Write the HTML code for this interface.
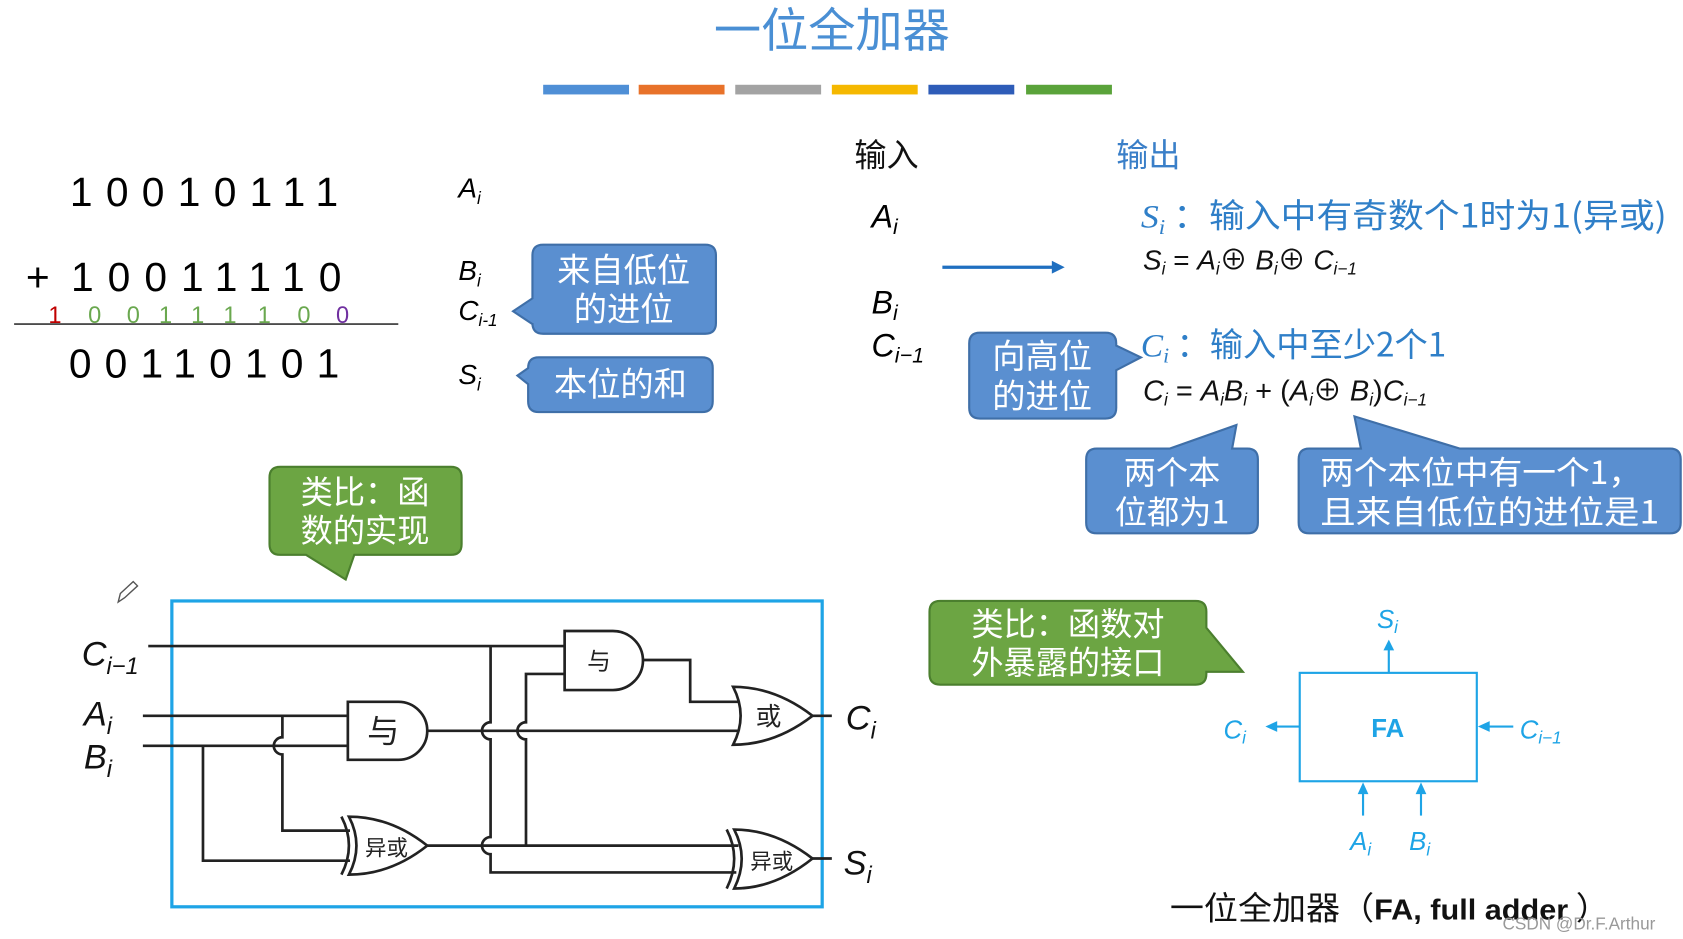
<!DOCTYPE html>
<html><head><meta charset="utf-8"><style>
html,body{margin:0;padding:0;background:#fff;}
svg{display:block;}
text{font-family:"Liberation Sans","Noto Sans CJK SC",sans-serif;}
.cjk{font-family:"Noto Sans CJK SC","Liberation Sans",sans-serif;}
.it{font-family:"Liberation Serif","Noto Sans CJK SC",serif;font-style:italic;}
.w{stroke:#222;stroke-width:2.5;fill:none;}
.g{stroke:#222;stroke-width:2.5;fill:#fff;}
.cb{fill:#5a8fd0;stroke:#3f6fa8;stroke-width:2;}
.cg{fill:#6ca543;stroke:#4b7f2e;stroke-width:2;}
.fa{stroke:#1ea4e6;stroke-width:2;fill:none;}
</style></head><body>
<svg width="1683" height="939" viewBox="0 0 1568 875" xmlns="http://www.w3.org/2000/svg">
<rect width="1568" height="875" fill="#fff"/>
<text x="775" y="44" text-anchor="middle" class="cjk" font-size="44" fill="#4a8fd4">一位全加器</text>
<rect x="506" y="79" width="80" height="9" fill="#4f8fd6"/>
<rect x="595" y="79" width="80" height="9" fill="#e8722a"/>
<rect x="685" y="79" width="80" height="9" fill="#a3a3a3"/>
<rect x="775" y="79" width="80" height="9" fill="#f5b800"/>
<rect x="865" y="79" width="80" height="9" fill="#2e5cb8"/>
<rect x="956" y="79" width="80" height="9" fill="#5aa33a"/>

<text x="65" y="192" font-size="38" textLength="250" lengthAdjust="spacing">10010111</text>
<text x="24" y="271" font-size="38">+</text>
<text x="66" y="271" font-size="38" textLength="252" lengthAdjust="spacing">10011110</text>
<g font-size="22">
<text x="45" y="301" fill="#c00000">1</text>
<text x="82" y="301" fill="#6aa84f">0</text>
<text x="118" y="301" fill="#6aa84f">0</text>
<text x="148" y="301" fill="#6aa84f">1</text>
<text x="178" y="301" fill="#6aa84f">1</text>
<text x="208" y="301" fill="#6aa84f">1</text>
<text x="240" y="301" fill="#6aa84f">1</text>
<text x="277" y="301" fill="#6aa84f">0</text>
<text x="313" y="301" fill="#7030a0">0</text>
</g>
<line x1="13" y1="302" x2="371" y2="302" stroke="#333" stroke-width="1.5"/>
<text x="64" y="352" font-size="38" textLength="252" lengthAdjust="spacing">00110101</text>

<g class="it" font-size="26">
<text x="427" y="184">A<tspan font-size="16" dy="6">i</tspan></text>
<text x="427" y="261">B<tspan font-size="16" dy="6">i</tspan></text>
<text x="427" y="298">C<tspan font-size="16" dy="6">i-1</tspan></text>
<text x="427" y="358">S<tspan font-size="16" dy="6">i</tspan></text>
</g>
<path class="cb" d="M506,228 H657 Q667,228 667,238 V301 Q667,311 657,311 H506 Q496,311 496,301 V302 L478,290 L496,278 V238 Q496,228 506,228 Z"/>
<text x="581" y="263" text-anchor="middle" class="cjk" font-size="31" fill="#fff">来自低位</text>
<text x="581" y="299" text-anchor="middle" class="cjk" font-size="31" fill="#fff">的进位</text>
<path class="cb" d="M502,333 H654 Q664,333 664,343 V374 Q664,384 654,384 H502 Q492,384 492,374 V358 L482,350 L492,343 Q492,333 502,333 Z"/>
<text x="578" y="369" text-anchor="middle" class="cjk" font-size="31" fill="#fff">本位的和</text>

<text x="796" y="155" class="cjk" font-size="30" fill="#111">输入</text>
<text x="1040" y="155" class="cjk" font-size="30" fill="#3a7fc8">输出</text>
<g class="it" font-size="30">
<text x="812" y="212">A<tspan font-size="20" dy="6">i</tspan></text>
<text x="812" y="292">B<tspan font-size="20" dy="6">i</tspan></text>
<text x="812" y="332">C<tspan font-size="20" dy="6">i−1</tspan></text>
</g>
<line x1="878" y1="249" x2="982" y2="249" stroke="#1f6fc0" stroke-width="3"/>
<polygon points="980,243 992,249 980,255" fill="#1f6fc0"/>

<text x="1063" y="212" font-size="31" fill="#2f7fc8" textLength="490" lengthAdjust="spacingAndGlyphs"><tspan class="it">S</tspan><tspan class="it" font-size="20" dy="6">i</tspan><tspan dy="-6" class="cjk"> ：输入中有奇数个1时为1(异或)</tspan></text>
<text x="1065" y="251" font-size="26" fill="#111" font-style="italic">S<tspan font-size="16" dy="5">i</tspan><tspan dy="-5" font-style="normal"> = </tspan>A<tspan font-size="16" dy="5">i</tspan><tspan dy="-5" font-style="normal">⊕ </tspan>B<tspan font-size="16" dy="5">i</tspan><tspan dy="-5" font-style="normal">⊕ </tspan>C<tspan font-size="16" dy="5">i−1</tspan></text>

<path class="cb" d="M913,310 H1030 Q1040,310 1040,320 V322 L1063,333 L1040,345 V380 Q1040,390 1030,390 H913 Q903,390 903,380 V320 Q903,310 913,310 Z"/>
<text x="971" y="343" text-anchor="middle" class="cjk" font-size="31" fill="#fff">向高位</text>
<text x="971" y="380" text-anchor="middle" class="cjk" font-size="31" fill="#fff">的进位</text>

<text x="1063" y="332" font-size="31" fill="#2f7fc8"><tspan class="it">C</tspan><tspan class="it" font-size="20" dy="6">i</tspan><tspan dy="-6" class="cjk"> ：输入中至少2个1</tspan></text>
<text x="1065" y="373" font-size="27" fill="#111" font-style="italic">C<tspan font-size="16" dy="5">i</tspan><tspan dy="-5" font-style="normal"> = </tspan>A<tspan font-size="16" dy="5">i</tspan><tspan dy="-5">B</tspan><tspan font-size="16" dy="5">i</tspan><tspan dy="-5" font-style="normal"> + (</tspan>A<tspan font-size="16" dy="5">i</tspan><tspan dy="-5" font-style="normal">⊕ </tspan>B<tspan font-size="16" dy="5">i</tspan><tspan dy="-5" font-style="normal">)</tspan>C<tspan font-size="16" dy="5">i−1</tspan></text>

<path class="cb" d="M1022,418 H1090 L1152,396 L1148,418 H1162 Q1172,418 1172,428 V487 Q1172,497 1162,497 H1022 Q1012,497 1012,487 V428 Q1012,418 1022,418 Z"/>
<text x="1092" y="451" text-anchor="middle" class="cjk" font-size="30" fill="#fff">两个本</text>
<text x="1092" y="488" text-anchor="middle" class="cjk" font-size="30" fill="#fff">位都为1</text>
<path class="cb" d="M1220,418 H1268 L1262,388 L1360,418 H1556 Q1566,418 1566,428 V487 Q1566,497 1556,497 H1220 Q1210,497 1210,487 V428 Q1210,418 1220,418 Z"/>
<text x="1230" y="451" class="cjk" font-size="30" fill="#fff" textLength="300" lengthAdjust="spacingAndGlyphs">两个本位中有一个1，</text>
<text x="1230" y="488" class="cjk" font-size="30" fill="#fff" textLength="316" lengthAdjust="spacingAndGlyphs">且来自低位的进位是1</text>

<path class="cg" d="M261,435 H420 Q430,435 430,445 V507 Q430,517 420,517 H330 L322,540 L285,517 H261 Q251,517 251,507 V445 Q251,435 261,435 Z"/>
<text x="340" y="469" text-anchor="middle" class="cjk" font-size="30" fill="#fff">类比：函</text>
<text x="340" y="505" text-anchor="middle" class="cjk" font-size="30" fill="#fff">数的实现</text>
<path class="cg" d="M876,560 H1114 Q1124,560 1124,570 V585 L1158,626 L1124,626 V628 Q1124,638 1114,638 H876 Q866,638 866,628 V570 Q866,560 876,560 Z"/>
<text x="995" y="592" text-anchor="middle" class="cjk" font-size="30" fill="#fff">类比：函数对</text>
<text x="995" y="628" text-anchor="middle" class="cjk" font-size="30" fill="#fff">外暴露的接口</text>

<path d="M110,561 L112,553 L124,542 L128,546 L116,557 Z" fill="none" stroke="#555" stroke-width="1.3"/>

<rect x="160" y="560" width="606" height="285" fill="none" stroke="#1ea4e6" stroke-width="3"/>
<path class="w" d="M138,602 H527"/>
<path class="w" d="M457,602 V673 A8,8 0 0 0 457,689 V780 A8,8 0 0 0 457,796 V813 H686"/>
<path class="w" d="M527,628 H490 V673 A8,8 0 0 0 490,689 V788"/>
<path class="w" d="M599,615 H643 V654 H690"/>
<path class="w" d="M398,681 H692"/>
<path class="w" d="M398,788 H688"/>
<path class="w" d="M757,667 H775"/>
<path class="w" d="M757,800 H775"/>
<path class="w" d="M133,667 H324"/>
<path class="w" d="M133,695 H324"/>
<path class="w" d="M263,667 V687 A8,8 0 0 0 263,703 V774 H326"/>
<path class="w" d="M189,695 V802 H326"/>
<path class="g" d="M526,588 H571 A28,27.5 0 0 1 571,643 H526 Z"/>
<path class="g" d="M324,654 H371 A27,27 0 0 1 371,708 H324 Z"/>
<path class="g" d="M683,640 Q722,640 757,667 Q722,694 683,694 Q697,667 683,640 Z"/>
<path class="g" d="M325,761 Q364,761 398,788 Q364,815 325,815 Q339,788 325,761 Z"/>
<path class="w" d="M318,761 Q332,788 318,815"/>
<path class="g" d="M684,773 Q722,773 757,800 Q722,828 684,828 Q698,800 684,773 Z"/>
<path class="w" d="M677,773 Q691,800 677,828"/>
<text x="558" y="624" text-anchor="middle" class="cjk" font-size="22" fill="#222">与</text>
<text x="357" y="692" text-anchor="middle" class="cjk" font-size="30" fill="#222">与</text>
<text x="716" y="676" text-anchor="middle" class="cjk" font-size="24" fill="#222">或</text>
<text x="360" y="797" text-anchor="middle" class="cjk" font-size="20" fill="#222">异或</text>
<text x="719" y="810" text-anchor="middle" class="cjk" font-size="20" fill="#222">异或</text>
<g class="it" font-size="32" fill="#111">
<text x="76" y="620">C<tspan font-size="22" dy="8">i−1</tspan></text>
<text x="78" y="676">A<tspan font-size="22" dy="8">i</tspan></text>
<text x="78" y="716">B<tspan font-size="22" dy="8">i</tspan></text>
<text x="788" y="680">C<tspan font-size="22" dy="8">i</tspan></text>
<text x="786" y="815">S<tspan font-size="22" dy="8">i</tspan></text>
</g>

<rect x="1211" y="627" width="165" height="101" class="fa"/>
<text x="1293" y="687" text-anchor="middle" font-size="24" font-weight="bold" fill="#1ea4e6">FA</text>
<line x1="1294" y1="627" x2="1294" y2="604" class="fa"/>
<polygon points="1289,606 1294,596 1299,606" fill="#1ea4e6"/>
<line x1="1211" y1="677" x2="1188" y2="677" class="fa"/>
<polygon points="1190,672 1179,677 1190,682" fill="#1ea4e6"/>
<line x1="1410" y1="677" x2="1386" y2="677" class="fa"/>
<polygon points="1388,672 1377,677 1388,682" fill="#1ea4e6"/>
<line x1="1270" y1="760" x2="1270" y2="738" class="fa"/>
<polygon points="1265,740 1270,729 1275,740" fill="#1ea4e6"/>
<line x1="1324" y1="760" x2="1324" y2="738" class="fa"/>
<polygon points="1319,740 1324,729 1329,740" fill="#1ea4e6"/>
<g class="it" font-size="24" fill="#1ea4e6">
<text x="1283" y="585">S<tspan font-size="16" dy="5">i</tspan></text>
<text x="1140" y="688">C<tspan font-size="16" dy="5">i</tspan></text>
<text x="1416" y="688">C<tspan font-size="16" dy="5">i−1</tspan></text>
<text x="1258" y="792">A<tspan font-size="16" dy="5">i</tspan></text>
<text x="1313" y="792">B<tspan font-size="16" dy="5">i</tspan></text>
</g>
<text x="1090" y="857" font-size="30" fill="#111" textLength="410" lengthAdjust="spacingAndGlyphs"><tspan class="cjk">一位全加器（</tspan><tspan font-weight="bold" font-size="27">FA, full adder</tspan><tspan class="cjk"> ）</tspan></text>
<text x="1400" y="866" font-size="16" fill="#999">CSDN @Dr.F.Arthur</text>
</svg>
</body></html>
